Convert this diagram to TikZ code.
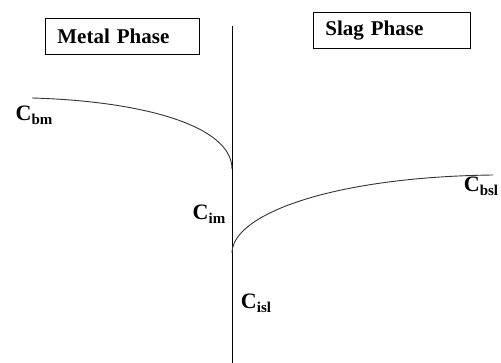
\documentclass[tikz,border=0pt]{standalone}
\usepackage{fontspec}
\setmainfont{Liberation Serif}
\tikzset{
  phasebox/.style={draw=black,line width=0.8pt,minimum height=36pt,inner xsep=12pt,
                   align=left,anchor=north west,font=\fontsize{21}{24}\selectfont\bfseries}, % phase name box
  iface/.style={black,line width=0.9pt},      % metal/slag interface
  conc/.style={black!80,line width=0.9pt},    % concentration profile
  clabel/.style={inner sep=0pt,font=\fontsize{22}{24}\selectfont\bfseries},
}
\newcommand{\csub}[1]{C\raisebox{-0.4ex}{\fontsize{15}{17}\selectfont #1}}

\begin{document}
\begin{tikzpicture}[x=1pt,y=-1pt]
  \useasboundingbox (0,0) rectangle (501,363);
  % phase boxes
  \node[phasebox,text width=130pt] (metal) at (45,18) {Metal Phase};
  \node[phasebox,text width=133pt] (slag) at (313,12) {Slag Phase};
  % interface
  \coordinate (top) at (232,26);
  \coordinate (bot) at (232,363);
  \draw[iface] (top) -- (bot);
  % profiles
  \coordinate (bm) at (32,98);
  \coordinate (im) at (232,169);
  \coordinate (isl) at (232,253);
  \coordinate (bsl) at (493,175);
  \draw[conc] (bm) .. controls (140,101) and (232,125) .. (im);
  \draw[conc] (isl) .. controls (232,215) and (330,177) .. (bsl);
  % labels
  \node[clabel] (lbm) at (34,115) {\csub{bm}};
  \node[clabel] (lim) at (209,214) {\csub{im}};
  \node[clabel] (lisl) at (256,303) {\csub{isl}};
  \node[clabel] (lbsl) at (481,186) {\csub{bsl}};
\end{tikzpicture}
\end{document}
